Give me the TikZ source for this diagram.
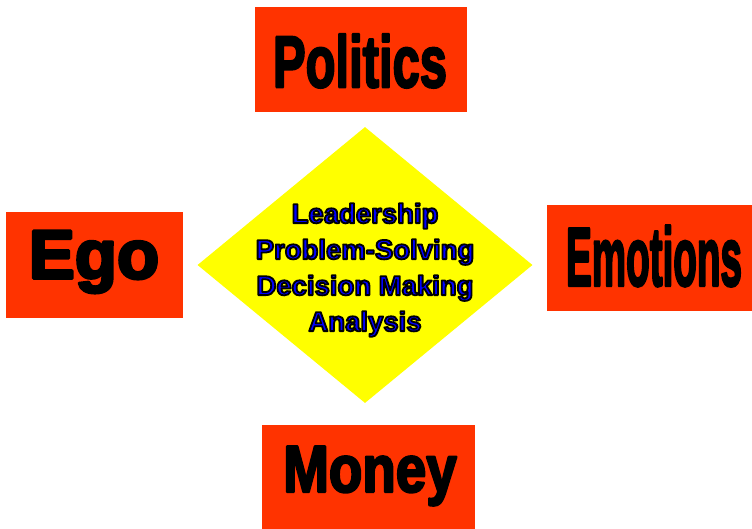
\documentclass[tikz,border=0pt]{standalone}
\usepackage{fontspec}
\setmainfont{Liberation Sans}
\usetikzlibrary{shapes.geometric}
\definecolor{boxred}{RGB}{255,51,0}
\definecolor{coreyellow}{RGB}{255,255,0}
\definecolor{coreblue}{RGB}{0,0,255}
% text with a stroked outline (fill + stroke render mode)
\newcommand{\strokedtext}[2]{\special{pdf:code 2 Tr #1 w 0 0 0 RG 1 j}#2\special{pdf:code 0 Tr 0.4 w 0 j}}
\tikzset{
  factor/.style={fill=boxred, draw=none, inner sep=0pt},
  factortext/.style={text=black, inner sep=0pt, font=\bfseries},
  coretext/.style={inner sep=0pt, align=center, text=coreblue, font=\fontsize{27.5}{36}\selectfont\bfseries},
}
\begin{document}
\begin{tikzpicture}[x=1pt,y=-1pt]
\useasboundingbox (0,0) rectangle (752,529);
% boxes
\node[factor, minimum width=212pt, minimum height=105pt] (politicsbox) at (361,59.5) {};
\node[factor, minimum width=177pt, minimum height=106pt] (egobox) at (94.5,265) {};
\node[factor, minimum width=205pt, minimum height=106pt] (emotionsbox) at (649.5,258) {};
\node[factor, minimum width=213pt, minimum height=104pt] (moneybox) at (368.5,477) {};
% diamond
\node[diamond, fill=coreyellow, draw=none, minimum width=335pt, minimum height=276pt, inner sep=0pt] (core) at (365,265) {};
% labels
\node[factortext] (politics) at (360,61) {\fontsize{73}{73}\selectfont\scalebox{0.67}[1]{\strokedtext{2.5}{Politics}}};
\node[factortext] (ego) at (94,262) {\fontsize{69}{69}\selectfont\strokedtext{3}{Ego}};
\node[factortext] (emotions) at (654,256) {\fontsize{83}{83}\selectfont\scalebox{0.465}[1]{\strokedtext{3}{Emotions}}};
\node[factortext] (money) at (370,476) {\fontsize{66}{66}\selectfont\scalebox{0.83}[1]{\strokedtext{2.5}{Money}}};
\node[coretext] (coretext) at (365,270) {\strokedtext{1.8}{Leadership}\\\strokedtext{1.8}{Problem-Solving}\\\strokedtext{1.8}{Decision Making}\\\strokedtext{1.8}{Analysis}};
\end{tikzpicture}
\end{document}
